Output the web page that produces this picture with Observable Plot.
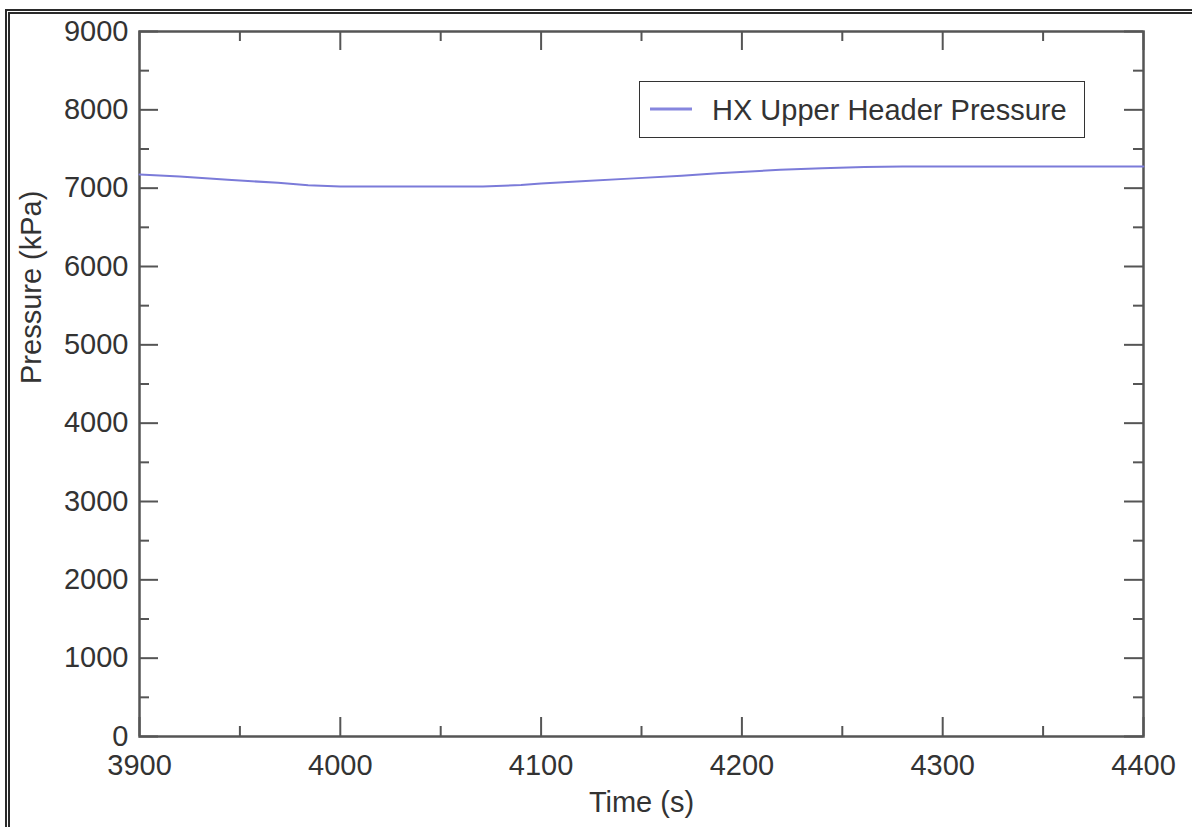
<!DOCTYPE html>
<html>
<head>
<meta charset="utf-8">
<script src="https://cdn.jsdelivr.net/npm/d3@7"></script>
<script src="https://cdn.jsdelivr.net/npm/@observablehq/plot@0.6"></script>
<style>
  html, body { margin: 0; padding: 0; background: #fff; overflow: hidden; width: 1192px; height: 827px; }
  #page { position: relative; width: 1192px; height: 827px; font-family: "Liberation Sans", Arial, Helvetica, sans-serif; }
  #border { position: absolute; left: 5px; top: 9px; width: 1300px; height: 900px; border: 5px double #2a2a2a; box-sizing: border-box; }
  #chart { position: absolute; left: 0; top: 0; }
  #legend { position: absolute; left: 639px; top: 81px; width: 446px; height: 57px; border: 1.5px solid #333; background: #fff; box-sizing: border-box; }
  #legend svg { position: absolute; left: 0; top: 0; }
  #legend span { position: absolute; left: 72px; top: 12px; font-size: 29px; color: #333; line-height: 32px; white-space: nowrap; }
</style>
</head>
<body>
<div id="page">
  <div id="border"></div>
  <div id="chart"></div>
  <div id="legend"><svg width="60" height="57"><line x1="10" x2="52" y1="27" y2="27" stroke="#8686de" stroke-width="3"/></svg><span id="legend-label"></span></div>
</div>
<script>
// ---- data ----
const seriesName = "HX Upper Header Pressure";
const times = [3900, 3920, 3944, 3969, 3984, 4000, 4020, 4050, 4071, 4090, 4100, 4120, 4146, 4170, 4188, 4219, 4240, 4261, 4280, 4300, 4350, 4400];
const pressure = [7175, 7150, 7107, 7068, 7038, 7022, 7020, 7020, 7022, 7040, 7060, 7089, 7125, 7160, 7190, 7234, 7255, 7270, 7277, 7278, 7278, 7278];
const xMajor = [3900, 4000, 4100, 4200, 4300, 4400];
const xMinor = [3950, 4050, 4150, 4250, 4350];
const yMajor = [0, 1000, 2000, 3000, 4000, 5000, 6000, 7000, 8000, 9000];
const yMinor = [500, 1500, 2500, 3500, 4500, 5500, 6500, 7500, 8500];
const xLabel = "Time (s)";
const yLabel = "Pressure (kPa)";

// ---- layout ----
const W = 1192, H = 827;
const mTop = 31, mRight = 49, mBottom = 91, mLeft = 139;
const innerW = W - mLeft - mRight, innerH = H - mTop - mBottom;
const majLen = 19, minLen = 10;
const axisColor = "#555";
const textColor = "#333";
const fmt = d => String(d);

const rows = times.map((t, i) => ({t, p: pressure[i]}));

const chart = Plot.plot({
  width: W, height: H,
  marginTop: mTop, marginRight: mRight, marginBottom: mBottom, marginLeft: mLeft,
  style: {fontFamily: "'Liberation Sans', Arial, Helvetica, sans-serif", fontSize: "29px", color: textColor, background: "transparent"},
  x: {domain: [3900, 4400]},
  y: {domain: [0, 9000]},
  marks: [
    // tick marks (inward), bottom/top
    Plot.ruleX(xMajor, {x: d => d, insetTop: innerH - majLen, stroke: axisColor, strokeWidth: 2}),
    Plot.ruleX(xMinor, {x: d => d, insetTop: innerH - minLen, stroke: axisColor, strokeWidth: 2}),
    Plot.ruleX(xMajor, {x: d => d, insetBottom: innerH - majLen, stroke: axisColor, strokeWidth: 2}),
    Plot.ruleX(xMinor, {x: d => d, insetBottom: innerH - minLen, stroke: axisColor, strokeWidth: 2}),
    // left/right
    Plot.ruleY(yMajor, {y: d => d, insetRight: innerW - majLen, stroke: axisColor, strokeWidth: 2}),
    Plot.ruleY(yMinor, {y: d => d, insetRight: innerW - minLen, stroke: axisColor, strokeWidth: 2}),
    Plot.ruleY(yMajor, {y: d => d, insetLeft: innerW - majLen, stroke: axisColor, strokeWidth: 2}),
    Plot.ruleY(yMinor, {y: d => d, insetLeft: innerW - minLen, stroke: axisColor, strokeWidth: 2}),
    Plot.frame({stroke: axisColor, strokeWidth: 2.5}),
    Plot.axisX(xMajor, {tickSize: 0, tickPadding: 18, tickFormat: fmt, label: null, fontSize: 29, fill: textColor}),
    Plot.axisY(yMajor, {tickSize: 0, tickPadding: 11, tickFormat: fmt, label: null, fontSize: 29, fill: textColor}),
    Plot.text([xLabel], {text: d => d, frameAnchor: "bottom", dy: 75, fontSize: 29, fill: textColor}),
    Plot.text([yLabel], {text: d => d, frameAnchor: "left", rotate: -90, dx: -108, fontSize: 29, fill: textColor}),
    Plot.line(rows, {x: "t", y: "p", stroke: "#7b7bd9", strokeWidth: 2})
  ]
});
document.getElementById("chart").appendChild(chart);
document.getElementById("legend-label").textContent = seriesName;
</script>
</body>
</html>
